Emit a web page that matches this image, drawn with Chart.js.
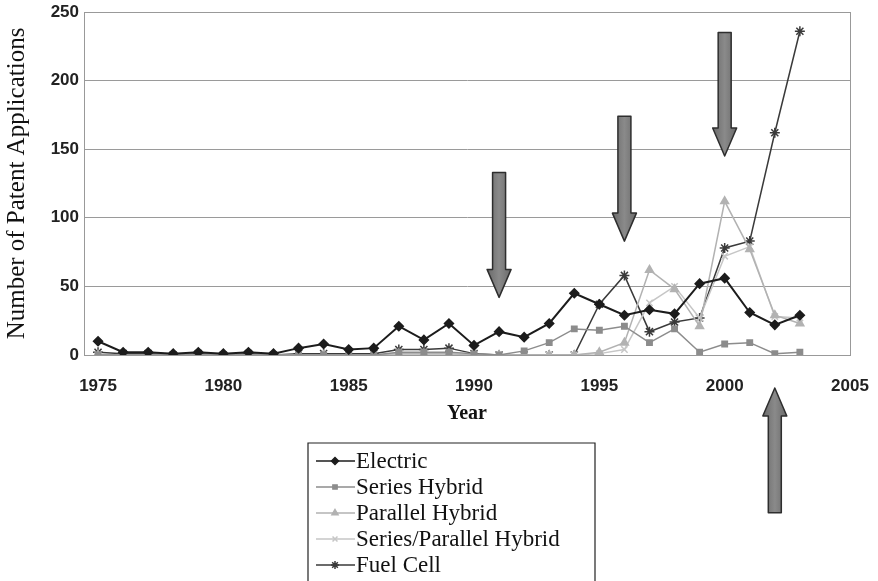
<!DOCTYPE html>
<html>
<head>
<meta charset="utf-8">
<script src="https://cdn.jsdelivr.net/npm/chart.js@4.4.1/dist/chart.umd.min.js"></script>
<style>
html, body { margin: 0; padding: 0; background: #fff; }
#wrap { position: relative; width: 878px; height: 581px; }
</style>
</head>
<body>
<div id="wrap"><canvas id="patentChart" width="878" height="581"></canvas></div>
<script>
// data
const years = [1975, 1976, 1977, 1978, 1979, 1980, 1981, 1982, 1983, 1984, 1985, 1986, 1987, 1988, 1989,
               1990, 1991, 1992, 1993, 1994, 1995, 1996, 1997, 1998, 1999, 2000, 2001, 2002, 2003];
const electric       = [10, 2, 2, 1, 2, 1, 2, 1, 5, 8, 4, 5, 21, 11, 23, 7, 17, 13, 23, 45, 37, 29, 33, 30, 52, 56, 31, 22, 29];
const seriesHybrid   = [0, 0, 0, 0, 0, 0, 0, 0, 0, 0, 0, 0, 2, 2, 2, 1, 0, 3, 9, 19, 18, 21, 9, 19, 2, 8, 9, 1, 2];
const parallelHybrid = [0, 0, 0, 0, 0, 0, 0, 0, 0, 0, 0, 0, 1, 1, 1, 0, 0, 0, 0, 0, 2, 9, 62, 48, 21, 112, 77, 29, 23];
const spHybrid       = [0, 0, 0, 0, 0, 0, 0, 0, 0, 0, 0, 0, 0, 0, 0, 0, 0, 0, 0, 0, 1, 4, 38, 50, 27, 72, 79, 28, 27];
const fuelCell       = [2, 1, 1, 0, 1, 0, 1, 0, 1, 1, 1, 1, 4, 4, 5, 1, 0, 0, 0, 0, 37, 58, 17, 24, 27, 78, 83, 162, 236];

const seriesNames = ['Electric', 'Series Hybrid', 'Parallel Hybrid', 'Series/Parallel Hybrid', 'Fuel Cell'];
const xTicks = [1975, 1980, 1985, 1990, 1995, 2000, 2005];
const yTicks = [0, 50, 100, 150, 200, 250];

// the big grey arrows pasted on the figure (year, value at tail, value at tip)
const arrowMarks = [
    { year: 1991, from: 133, to: 42 },
    { year: 1996, from: 174, to: 83 },
    { year: 2000, from: 235, to: 145 },
    { year: 2002, from: -115, to: -24 }
];

const toPoints = vals => years.map((yr, i) => ({ x: yr, y: vals[i] }));

const styles = [
    { color: '#1c1c1c', point: 'rectRot', radius: 4.5, width: 2 },
    { color: '#8c8c8c', point: 'rect', radius: 3.8, width: 1.5 },
    { color: '#b2b2b2', point: 'triangle', radius: 4.5, width: 1.5 },
    { color: '#c6c6c6', point: 'crossRot', radius: 4.5, width: 1.5 },
    { color: '#3a3a3a', point: 'star', radius: 5, width: 1.5 }
];
const seriesValues = [electric, seriesHybrid, parallelHybrid, spHybrid, fuelCell];

const datasets = seriesNames.map((name, i) => ({
    label: name,
    data: toPoints(seriesValues[i]),
    borderColor: styles[i].color,
    backgroundColor: styles[i].color,
    borderWidth: styles[i].width,
    pointStyle: styles[i].point,
    pointRadius: styles[i].radius,
    pointBorderWidth: 1.5,
    pointHoverRadius: styles[i].radius,
    tension: 0
}));

const bgPlugin = {
    id: 'bg',
    beforeDraw(chart) {
        const ctx = chart.ctx;
        ctx.save();
        ctx.fillStyle = '#fff';
        ctx.fillRect(0, 0, chart.width, chart.height);
        ctx.restore();
    },
    beforeDatasetsDraw(chart) {
        const a = chart.chartArea;
        const ctx = chart.ctx;
        ctx.save();
        ctx.strokeStyle = '#999';
        ctx.lineWidth = 1;
        ctx.strokeRect(Math.round(a.left) + 0.5, Math.round(a.top) + 0.5, Math.round(a.right - a.left), Math.round(a.bottom - a.top));
        ctx.restore();
    }
};

const arrowPlugin = {
    id: 'arrows',
    afterDatasetsDraw(chart) {
        const ctx = chart.ctx;
        const xs = chart.scales.x, ys = chart.scales.y;
        ctx.save();
        arrowMarks.forEach(a => {
            const cx = xs.getPixelForValue(a.year);
            const y0 = ys.getPixelForValue(a.from);
            const y1 = ys.getPixelForValue(a.to);
            const dir = y1 > y0 ? 1 : -1;
            const shaft = 6.5, head = 12, headLen = 28;
            const yb = y1 - dir * headLen;
            ctx.beginPath();
            ctx.moveTo(cx - shaft, y0);
            ctx.lineTo(cx + shaft, y0);
            ctx.lineTo(cx + shaft, yb);
            ctx.lineTo(cx + head, yb);
            ctx.lineTo(cx, y1);
            ctx.lineTo(cx - head, yb);
            ctx.lineTo(cx - shaft, yb);
            ctx.closePath();
            const g = ctx.createLinearGradient(cx - head, 0, cx + head, 0);
            g.addColorStop(0, '#6a6a6a');
            g.addColorStop(0.5, '#8a8a8a');
            g.addColorStop(1, '#6a6a6a');
            ctx.fillStyle = g;
            ctx.fill();
            ctx.strokeStyle = '#2e2e2e';
            ctx.lineWidth = 1.5;
            ctx.lineJoin = 'round';
            ctx.stroke();
        });
        ctx.restore();
    }
};

const legendPlugin = {
    id: 'boxLegend',
    afterDraw(chart) {
        const ctx = chart.ctx;
        const left = 308, top = 443, right = 595, rowTop = 461, rowGap = 26;
        ctx.save();
        ctx.strokeStyle = '#222';
        ctx.lineWidth = 1.2;
        ctx.beginPath();
        ctx.moveTo(left, chart.height + 2);
        ctx.lineTo(left, top);
        ctx.lineTo(right, top);
        ctx.lineTo(right, chart.height + 2);
        ctx.stroke();
        chart.data.datasets.forEach((ds, i) => {
            const y = rowTop + i * rowGap;
            ctx.strokeStyle = ds.borderColor;
            ctx.fillStyle = ds.borderColor;
            ctx.lineWidth = 1.5;
            ctx.beginPath();
            ctx.moveTo(316, y);
            ctx.lineTo(355, y);
            ctx.stroke();
            if (Chart.helpers && Chart.helpers.drawPoint) {
                Chart.helpers.drawPoint(ctx, {
                    pointStyle: ds.pointStyle,
                    radius: Math.max(3, ds.pointRadius - 1),
                    rotation: 0,
                    borderWidth: 1.2
                }, 335, y);
            }
            ctx.fillStyle = '#111';
            ctx.font = '23px "Liberation Serif", "Times New Roman", serif';
            ctx.textBaseline = 'middle';
            ctx.textAlign = 'left';
            ctx.fillText(ds.label, 356, y + 1);
        });
        ctx.restore();
    }
};

const tickFont = { family: '"Liberation Sans", Arial, sans-serif', size: 17, weight: 'bold' };

new Chart(document.getElementById('patentChart'), {
    type: 'line',
    data: { datasets: datasets },
    options: {
        responsive: false,
        animation: false,
        layout: { padding: { left: 0, top: 12, right: 28, bottom: 152 } },
        plugins: {
            legend: { display: false },
            tooltip: { enabled: false }
        },
        scales: {
            x: {
                type: 'linear',
                min: 1974.44,
                max: 2005,
                afterBuildTicks: scale => { scale.ticks = xTicks.map(v => ({ value: v })); },
                afterFit: scale => { scale.height = 74; scale.paddingLeft = 0; scale.paddingRight = 0; },
                grid: { display: false, drawTicks: false },
                border: { display: true, color: '#888' },
                ticks: { padding: 21, font: tickFont, color: '#222', maxRotation: 0, autoSkip: false,
                         callback: v => String(v) },
                title: { display: true, text: 'Year', color: '#111', padding: { top: 0, bottom: 3 },
                         font: { family: '"Liberation Serif", "Times New Roman", serif', size: 20, weight: 'bold' } }
            },
            y: {
                min: 0,
                max: 250,
                afterBuildTicks: scale => { scale.ticks = yTicks.map(v => ({ value: v })); },
                afterFit: scale => { scale.width = 84; scale.paddingTop = 0; scale.paddingBottom = 0; },
                grid: { color: '#9a9a9a', lineWidth: 1, drawTicks: false },
                border: { display: true, color: '#888' },
                ticks: { padding: 5, font: tickFont, color: '#222' },
                title: { display: true, text: 'Number of Patent Applications', color: '#111', padding: { top: 2, bottom: 0 },
                         font: { family: '"Liberation Serif", "Times New Roman", serif', size: 25 } }
            }
        }
    },
    plugins: [bgPlugin, arrowPlugin, legendPlugin]
});
</script>
</body>
</html>
